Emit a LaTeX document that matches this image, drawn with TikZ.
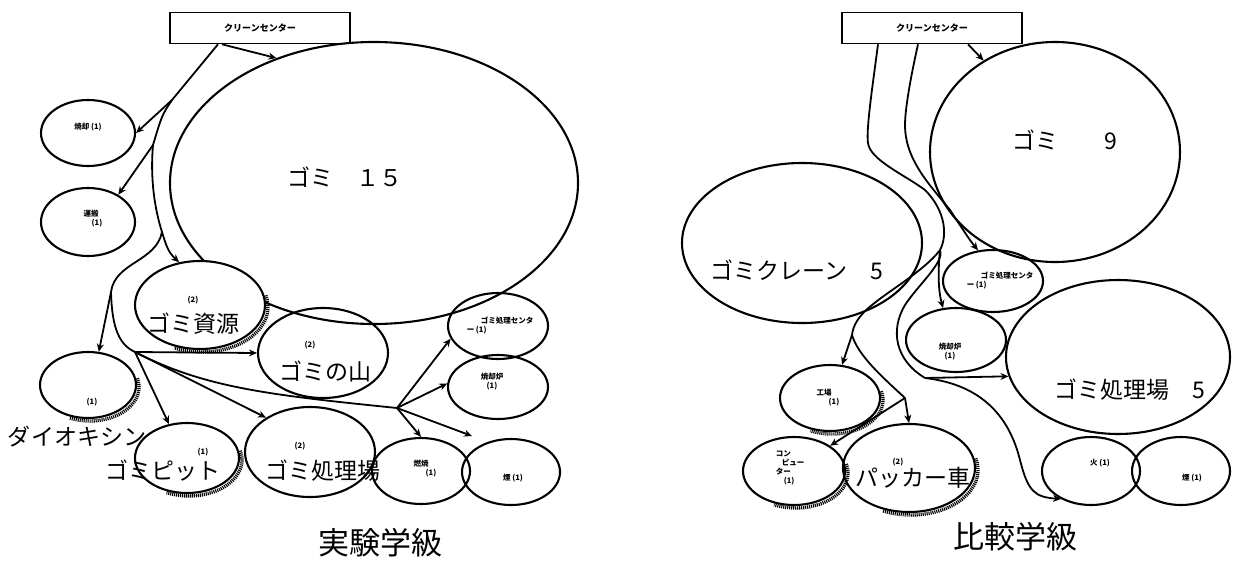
\documentclass[tikz,border=0pt]{standalone}
\usepackage{fontspec}
\setmainfont{Noto Sans CJK JP}
\usetikzlibrary{shapes.geometric,arrows.meta}
\tikzset{
  ell/.style={draw, ellipse, line width=2.1pt, inner sep=0pt},
  boxs/.style={draw, line width=1.6pt, minimum width=180pt, minimum height=31pt, inner sep=0pt, font=\bfseries\fontsize{9}{10}\selectfont},
  big/.style={inner sep=0pt, font=\fontsize{23}{25}\selectfont},
  ttl/.style={inner sep=0pt, font=\fontsize{31}{33}\selectfont},
  lbl/.style={inner sep=0pt, align=center, font=\bfseries\fontsize{7.5}{9}\selectfont},
  ln/.style={line width=1.8pt},
  con/.style={line width=1.8pt, -{Stealth[length=8pt,width=7pt]}},
  shad/.style={line width=3.4pt, dash pattern=on 1.1pt off 0.9pt}
}
\newcommand\shadarc[4]{\draw[shad] ([shift={(-15:#3 and #4)}]#1,#2) arc[start angle=-15,end angle=115,x radius=#3,y radius=#4];}
\begin{document}
\begin{tikzpicture}[x=1pt,y=-1pt]
\useasboundingbox (0,0) rectangle (1257,565);
%================ LEFT =================
\node[boxs] (lbox) at (260,28) {クリーンセンター};
\node[ell, minimum width=408pt, minimum height=282pt] (lg) at (374,183) {};
\node[big] (lgt) at (345,177) {ゴミ　１５};
\node[ell, minimum width=94pt, minimum height=66pt] (yk) at (88,133) {};
\node[lbl] (ykt) at (88,127) {焼却 (1)};
\node[ell, minimum width=94pt, minimum height=68pt] (un) at (88,222) {};
\node[lbl, align=left] (unt) at (93,219) {運搬\\\hspace{8pt}(1)};
\shadarc{202}{307}{66}{45}
\node[ell, fill=white, minimum width=130pt, minimum height=88pt] (gs) at (200,305) {};
\node[lbl] (gst1) at (193,300) {(2)};
\node[big] (gst2) at (193,324) {ゴミ資源};
\node[ell, minimum width=130pt, minimum height=90pt] (mt) at (323,353) {};
\node[lbl] (mtt1) at (310,345) {(2)};
\node[big] (mtt2) at (325,371) {ゴミの山};
\shadarc{90}{387}{49}{34}
\node[ell, minimum width=96pt, minimum height=66pt] (dio) at (88,385) {};
\node[lbl] (diot1) at (92,402) {(1)};
\node[big] (diot2) at (77,437) {ダイオキシン};
\shadarc{189}{460}{53}{36}
\node[ell, minimum width=104pt, minimum height=70pt] (pit) at (187,458) {};
\node[lbl] (pitt1) at (203,452) {(1)};
\node[big] (pitt2) at (163,471) {ゴミピット};
\node[ell, minimum width=130pt, minimum height=90pt] (sj) at (310,452) {};
\node[lbl] (sjt1) at (300,446) {(2)};
\node[big] (sjt2) at (323,471) {ゴミ処理場};
\node[ell, minimum width=100pt, minimum height=66pt] (ct) at (498,326) {};
\node[lbl, align=left] (ctt) at (500,325) {\hspace{14pt}ゴミ処理センタ\\ー (1)};
\node[ell, minimum width=100pt, minimum height=64pt] (sk) at (498,387) {};
\node[lbl] (skt) at (492,382) {焼却炉\\(1)};
\node[ell, minimum width=98pt, minimum height=66pt] (ns) at (421,471) {};
\node[lbl, align=left] (nst) at (425,469) {燃焼\\\hspace{12pt}(1)};
\node[ell, minimum width=98pt, minimum height=66pt] (km) at (511,472) {};
\node[lbl] (kmt) at (513,478) {煙 (1)};
\node[ttl] (lttl) at (380,543) {実験学級};
% left connectors
\coordinate (lj1) at (172,100);
\coordinate (lj2) at (153,145);
\coordinate (lj3) at (162,232);
\coordinate (lj4) at (111,292);
\coordinate (lh) at (135,352);
\coordinate (lh2) at (397,408);
\coordinate (lsm) at (472,436);
\draw[con] ([xshift=-38pt]lbox.south) -- (lg.128);
\draw[ln] ([xshift=-42pt]lbox.south) -- (lj1);
\draw[con] (lj1) -- (yk.east);
\draw[ln] (lj1) .. controls (162,115) .. (lj2);
\draw[con] (lj2) -- (un.42);
\draw[ln] (lj2) .. controls (150,180) and (155,210) .. (lj3);
\draw[con] (lj3) .. controls (166,245) and (168,252) .. (gs.116);
\draw[ln] (lj3) .. controls (156,262) and (115,262) .. (lj4);
\draw[con] (lj4) -- (dio.72);
\draw[ln] (lj4) .. controls (112,330) and (120,345) .. (lh);
\draw[con] (lh) -- (mt.west);
\draw[con] (lh) -- (pit.118);
\draw[con] (lh) -- (sj.142);
\draw[ln] (lh) .. controls (205,388) and (270,395) .. (lh2);
\draw[con] (lh2) -- (ct.195);
\draw[con] (lh2) -- (sk.176);
\draw[con] (lh2) -- (ns.north);
\draw[con] (lh2) -- (lsm);
%================ RIGHT =================
\node[boxs] (rbox) at (932,28) {クリーンセンター};
\node[ell, minimum width=250pt, minimum height=220pt] (rg) at (1055,152) {};
\node[big] (rgt) at (1065,140) {ゴミ　　9};
\node[ell, minimum width=240pt, minimum height=160pt] (rc) at (802,243) {};
\node[big] (rct) at (797,270) {ゴミクレーン　5};
\node[ell, minimum width=100pt, minimum height=62pt] (rce) at (993,281) {};
\node[lbl, align=left] (rcet) at (1000,280) {\hspace{14pt}ゴミ処理センタ\\ー (1)};
\node[ell, minimum width=100pt, minimum height=64pt] (rsk) at (956,340) {};
\node[lbl] (rskt) at (950,352) {焼却炉\\(1)};
\node[ell, minimum width=224pt, minimum height=154pt] (rsj) at (1118,357) {};
\node[big] (rsjt) at (1130,390) {ゴミ処理場　5};
\shadarc{832}{400}{51}{34}
\node[ell, minimum width=100pt, minimum height=66pt] (rkj) at (830,398) {};
\node[lbl, align=left] (rkjt) at (828,398) {工場\\\hspace{12pt}(1)};
\shadarc{796}{473}{52}{35}
\node[ell, minimum width=102pt, minimum height=68pt] (rcp) at (794,471) {};
\node[lbl, align=left] (rcpt) at (790,468) {コン\\\hspace{6pt}ピュー\\ター\\\hspace{8pt}(1)};
\shadarc{911}{470}{67}{45}
\node[ell, minimum width=132pt, minimum height=88pt] (rpk) at (909,468) {};
\node[lbl] (rpkt1) at (898,462) {(2)};
\node[big] (rpkt2) at (913,478) {パッカー車};
\node[ell, minimum width=98pt, minimum height=68pt] (rhi) at (1091,471) {};
\node[lbl] (rhit) at (1100,463) {火 (1)};
\node[ell, minimum width=98pt, minimum height=68pt] (rkm) at (1181,471) {};
\node[lbl] (rkmt) at (1192,478) {煙 (1)};
\node[ttl] (rttl) at (1015,537) {比較学級};
% right connectors
\coordinate (rj1) at (940,250);
\coordinate (rj2) at (852,335);
\coordinate (rj3) at (905,398);
\coordinate (rj4) at (925,378);
\draw[con] ([xshift=36pt]rbox.south) -- (rg.128);
\draw[ln] ([xshift=-54pt]rbox.south) .. controls (872,90) and (866,130) .. (868,143)
  .. controls (870,160) and (905,175) .. (925,190)
  .. controls (945,210) and (948,235) .. (rj1);
\draw[con] ([xshift=-14pt]rbox.south) .. controls (910,80) and (905,110) .. (905,125)
  .. controls (905,160) and (930,185) .. (950,210)
  .. controls (962,228) and (968,238) .. (rce.116);
\draw[con] (rj1) .. controls (938,270) and (938,290) .. (rsk.112);
\draw[ln] (rj1) .. controls (925,270) and (890,290) .. (872,305)
  .. controls (858,316) and (853,326) .. (rj2);
\draw[con] (rj2) -- (rkj.70);
\draw[ln] (rj2) .. controls (858,355) and (880,375) .. (rj3);
\draw[con] (rj3) -- (rpk.north);
\draw[con] (rj3) -- (rcp.35);
\draw[ln] (rj1) .. controls (945,262) and (918,285) .. (905,305)
  .. controls (890,330) and (895,360) .. (rj4);
\draw[con] (rj4) -- (rsj.190);
\draw[con] (rj4) .. controls (985,385) and (1010,420) .. (1020,460)
  .. controls (1028,492) and (1035,497) .. (rhi.223);
\end{tikzpicture}
\end{document}
